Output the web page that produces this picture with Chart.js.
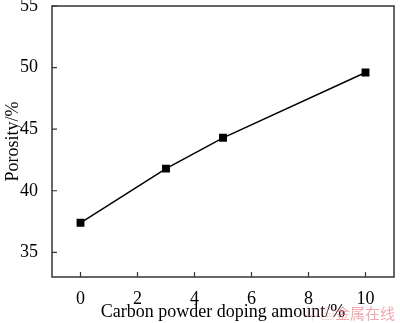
<!DOCTYPE html>
<html>
<head>
<meta charset="utf-8">
<script src="https://cdn.jsdelivr.net/npm/chart.js@4.4.1/dist/chart.umd.min.js"></script>
<style>
  html, body { margin: 0; padding: 0; background: #fff; }
  #wrap { width: 400px; height: 323px; }
</style>
</head>
<body>
<div id="wrap"><canvas id="myChart" width="400" height="323"></canvas></div>
<script>
// values
const carbonDoping = [0, 3, 5, 10]
const porosity = [37.4, 41.8, 44.3, 49.6]
const xTicks = [0, 2, 4, 6, 8, 10]
const yTicks = [35, 40, 45, 50, 55]

const serif = "'Liberation Serif', 'DejaVu Serif', serif"

// box round the plot, inward ticks, watermark
const framePlugin = {
    id: 'frame',
    afterDatasetsDraw(chart) {
        const ctx = chart.ctx
        const a = chart.chartArea
        const xs = chart.scales.x
        const ys = chart.scales.y
        ctx.save()
        ctx.strokeStyle = '#333'
        ctx.lineWidth = 1.5
        ctx.strokeRect(a.left, a.top, a.right - a.left, a.bottom - a.top)
        ctx.lineWidth = 1.2
        ctx.beginPath()
        xTicks.forEach(v => {
            const px = xs.getPixelForValue(v)
            ctx.moveTo(px, a.bottom)
            ctx.lineTo(px, a.bottom - 5)
        })
        yTicks.forEach(v => {
            const py = ys.getPixelForValue(v)
            ctx.moveTo(a.left, py)
            ctx.lineTo(a.left + 5, py)
        })
        ctx.stroke()
        ctx.font = "15px 'Noto Sans CJK SC'"
        ctx.textBaseline = 'middle'
        ctx.fillStyle = 'rgba(230, 150, 160, 0.3)'
        ctx.fillText('中国', 305, 313)
        ctx.fillStyle = 'rgba(230, 110, 120, 0.6)'
        ctx.fillText('金属在线', 335, 313)
        ctx.restore()
    }
}

const data = {
    datasets: [{
        label: 'Porosity',
        data: carbonDoping.map((x, i) => ({ x: x, y: porosity[i] })),
        borderColor: '#000',
        backgroundColor: '#000',
        borderWidth: 1.5,
        pointStyle: 'rect',
        pointRadius: 4.5,
        pointHoverRadius: 4.5,
        tension: 0
    }]
}

let porosityChart = new Chart("myChart", {
    type: "line",
    data: data,
    plugins: [framePlugin],
    options: {
        responsive: false,
        animation: false,
        layout: { padding: { top: 5, right: 1, left: 0, bottom: 0 } },
        plugins: {
            legend: { display: false },
            tooltip: { enabled: false }
        },
        scales: {
            x: {
                type: 'linear',
                min: -1,
                max: 11,
                afterBuildTicks: s => { s.ticks = xTicks.map(v => ({ value: v })) },
                afterFit: s => { s.height = 46; s.paddingLeft = 0; s.paddingRight = 0 },
                grid: { display: false },
                border: { display: false },
                ticks: { color: '#000', font: { family: serif, size: 18 }, padding: 3 },
                title: {
                    display: true,
                    text: 'Carbon powder doping amount/%',
                    color: '#000',
                    font: { family: serif, size: 18 },
                    padding: { top: 0, bottom: 0 }
                }
            },
            y: {
                min: 33,
                max: 55,
                afterBuildTicks: s => { s.ticks = yTicks.map(v => ({ value: v })) },
                afterFit: s => { s.width = 52; s.paddingTop = 0; s.paddingBottom = 0 },
                grid: { display: false },
                border: { display: false },
                ticks: { color: '#000', font: { family: serif, size: 18 }, padding: 6 },
                title: {
                    display: true,
                    text: 'Porosity/%',
                    color: '#000',
                    font: { family: serif, size: 18 },
                    padding: { top: 2, bottom: 0 }
                }
            }
        }
    }
});
</script>
</body>
</html>
